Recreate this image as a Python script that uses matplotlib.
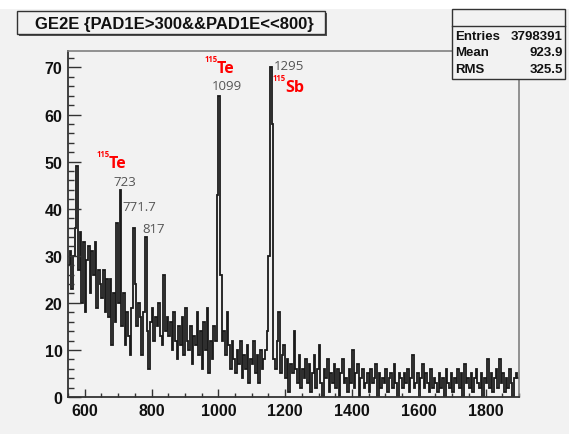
#!/usr/bin/env python3
"""
GE2E spectrum (ROOT style) recreated with matplotlib
"""

import matplotlib
matplotlib.use("Agg")
import matplotlib.pyplot as plt
import numpy as np
from matplotlib.patches import Rectangle
from matplotlib.ticker import MultipleLocator

# histogram: 5-unit bins from 550 to 1900
bin_start = 550
bin_width = 5
counts = [
    28, 31, 23, 30, 36, 49, 27, 35, 20, 33,   # 550
    18, 29, 32, 22, 31, 26, 33, 19, 27, 24,   # 600
    21, 27, 18, 25, 17, 25, 11, 22, 16, 37,   # 650
    20, 44, 15, 22, 11, 18, 13, 9, 19, 36,    # 700
    24, 15, 20, 17, 9, 18, 34, 14, 6, 16,     # 750
    19, 12, 17, 15, 20, 13, 11, 26, 14, 17,   # 800
    13, 16, 10, 18, 12, 8, 15, 11, 17, 9,     # 850
    19, 12, 10, 15, 7, 13, 11, 18, 9, 14,     # 900
    6, 16, 10, 19, 5, 12, 8, 15, 12, 43,      # 950
    64, 26, 12, 14, 9, 18, 11, 6, 12, 8,      # 1000
    5, 10, 7, 12, 4, 9, 6, 11, 3, 8,          # 1050
    7, 12, 5, 9, 3, 10, 6, 8, 10, 14,         # 1100
    30, 70, 58, 8, 6, 12, 18, 5, 9, 11,       # 1150
    4, 8, 1, 7, 5, 14, 6, 3, 9, 2,            # 1200
    6, 4, 8, 3, 7, 1, 5, 9, 2, 6,             # 1250
    11, 3, 0, 6, 4, 8, 1, 5, 3, 7,            # 1300
    2, 6, 0, 5, 8, 3, 4, 1, 6, 3,             # 1350
    10, 2, 5, 7, 0, 4, 6, 2, 3, 5,            # 1400
    1, 6, 3, 4, 7, 0, 5, 2, 4, 3,             # 1450
    6, 1, 4, 5, 2, 7, 3, 0, 5, 4,             # 1500
    2, 5, 3, 6, 1, 4, 9, 2, 3, 5,             # 1550
    0, 4, 7, 2, 5, 3, 1, 6, 2, 4,             # 1600
    3, 1, 5, 2, 4, 0, 6, 3, 2, 5,             # 1650
    1, 4, 3, 6, 2, 5, 0, 7, 3, 4,             # 1700
    2, 5, 1, 4, 6, 3, 2, 5, 0, 4,             # 1750
    3, 8, 2, 5, 1, 4, 6, 2, 8, 3,             # 1800
    5, 1, 4, 2, 6, 3, 0, 4, 5, 4,             # 1850
]

title = "GE2E {PAD1E>300&&PAD1E<<800}"
stat_names = ["Entries", "Mean", "RMS"]
stat_values = ["3798391", "923.9", "325.5"]

# peak annotations: (mass, element, pixel x, pixel y)
isotope_labels = [("115", "Te", 97, 163), ("115", "Te", 205, 68), ("115", "Sb", 273, 87)]
energy_labels = [("723", 113, 183), ("771.7", 122, 208), ("817", 142, 230),
                 ("1099", 212, 86), ("1295", 274, 66)]

W, H = 569, 435
BG = "#f2f2f2"
HELV = ["Liberation Sans", "DejaVu Sans"]


def fx(px):
    return px / W


def fy(py):
    return 1 - py / H


fig = plt.figure(figsize=(W / 100, H / 100), dpi=100, facecolor=BG)
# white strip at the very top of the canvas
fig.patches.append(Rectangle((0, fy(10)), 1, 1 - fy(10), transform=fig.transFigure,
                             facecolor="white", edgecolor="none", zorder=0))

ax = fig.add_axes([fx(68), fy(398), fx(519) - fx(68), fy(52) - fy(398)])
ax.set_facecolor(BG)

edges = bin_start + bin_width * np.arange(len(counts) + 1)
ax.stairs(counts, edges, color="#1a1a1a", linewidth=1.3, baseline=None)

ax.set_xlim(550, 1900)
ax.set_ylim(0, 73.5)

ax.xaxis.set_major_locator(MultipleLocator(200))
ax.xaxis.set_minor_locator(MultipleLocator(50))
ax.yaxis.set_major_locator(MultipleLocator(10))
ax.yaxis.set_minor_locator(MultipleLocator(2))
ax.tick_params(axis="both", which="both", direction="in", color="#333333", width=1)
ax.tick_params(axis="y", which="major", length=9, pad=4)
ax.tick_params(axis="y", which="minor", length=4.5)
ax.tick_params(axis="x", which="major", length=6, pad=4)
ax.tick_params(axis="x", which="minor", length=3)
for lab in ax.get_xticklabels() + ax.get_yticklabels():
    lab.set_fontfamily(HELV)
    lab.set_fontweight("bold")
    lab.set_fontsize(11.5)
    lab.set_color("#111111")

for side in ["left", "bottom"]:
    ax.spines[side].set_color("#333333")
    ax.spines[side].set_linewidth(1.3)
for side in ["top", "right"]:
    ax.spines[side].set_color("#808080")
    ax.spines[side].set_linewidth(1.2)

# title box with shadow
fig.patches.append(Rectangle((fx(19), fy(37)), fx(327) - fx(19), fy(14) - fy(37),
                             transform=fig.transFigure, facecolor="#555555",
                             edgecolor="none", zorder=1))
fig.patches.append(Rectangle((fx(17), fy(35)), fx(325) - fx(17), fy(12) - fy(35),
                             transform=fig.transFigure, facecolor=BG,
                             edgecolor="#333333", linewidth=1, zorder=2))
fig.text(fx(35), fy(24), title, fontsize=12, fontweight="bold", color="#111111",
         family=HELV, ha="left", va="center", zorder=3)

# statistics box
fig.patches.append(Rectangle((fx(452), fy(80)), fx(565) - fx(452), fy(10) - fy(80),
                             transform=fig.transFigure, facecolor=BG,
                             edgecolor="#333333", linewidth=1, zorder=2))
fig.lines.append(plt.Line2D([fx(452), fx(565)], [fy(27), fy(27)], transform=fig.transFigure,
                            color="#333333", linewidth=1, zorder=3))
for i, (name, val) in enumerate(zip(stat_names, stat_values)):
    y = fy(37 + 16.5 * i)
    fig.text(fx(455), y, name, fontsize=9.5, fontweight="bold", color="#111111",
             family=HELV, ha="left", va="center", zorder=3)
    fig.text(fx(563), y, val, fontsize=9.5, fontweight="bold", color="#111111",
             family=HELV, ha="right", va="center", zorder=3)

# peak labels: small mass number as superscript, element symbol next to it
for mass, elem, px, py in isotope_labels:
    fig.text(fx(px), fy(py - 4), mass, fontsize=5.5, fontweight="bold", color="red",
             family=["Open Sans", "DejaVu Sans"], ha="left", va="bottom")
    fig.text(fx(px + 12), fy(py - 7), elem, fontsize=11.5, fontweight="bold", color="red",
             family=["Open Sans", "DejaVu Sans"], ha="left", va="top")
for txt, px, py in energy_labels:
    fig.text(fx(px), fy(py), txt, fontsize=9.5, color="#555555",
             family=["Open Sans", "DejaVu Sans"], ha="left", va="center")

plt.savefig("out.png", dpi=100, facecolor=BG)
